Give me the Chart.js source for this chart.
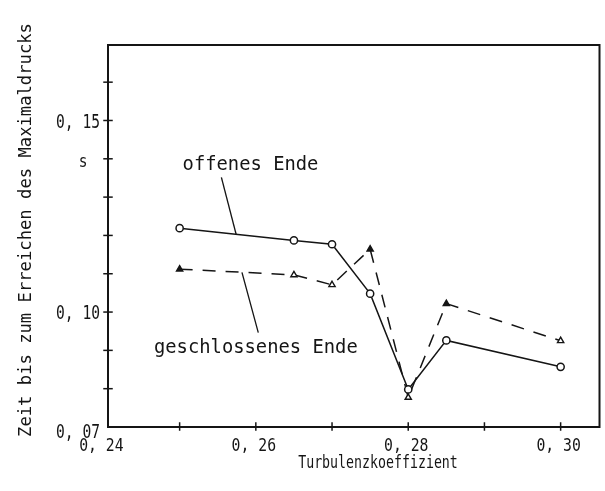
<!DOCTYPE html>
<html>
<head>
<meta charset="utf-8">
<script src="https://cdn.jsdelivr.net/npm/chart.js@4/dist/chart.umd.min.js"></script>
<style>
  html, body { margin: 0; padding: 0; background: #fff; }
  canvas { display: block; }
</style>
</head>
<body>
<canvas id="chart" width="605" height="491"></canvas>
<script>
// Turbulenzkoeffizient (x) and time to maximum pressure in s (y)
const xValues = [0.25, 0.265, 0.27, 0.275, 0.28, 0.285, 0.30];
const offenesEnde = [0.1219, 0.1187, 0.1177, 0.1048, 0.0798, 0.0926, 0.0857];
const geschlossenesEnde = [0.1112, 0.1097, 0.1071, 0.1164, 0.0777, 0.1022, 0.0925];
const geschlossenFilled = [true, false, false, true, false, true, false];

const xTicks = [0.25, 0.26, 0.27, 0.28, 0.29, 0.30];
const xLabelValues = [0.24, 0.26, 0.28, 0.30];
const xLabelTexts = ['0, 24', '0, 26', '0, 28', '0, 30'];
const yTicks = [0.08, 0.09, 0.10, 0.11, 0.12, 0.13, 0.14, 0.15, 0.16];
const yLabelValues = [0.07, 0.10, 0.15];
const yLabelTexts = ['0, 07', '0, 10', '0, 15'];

const INK = '#151515';
const FONT = '"DejaVu Sans Mono", "Liberation Mono", monospace';

// draw text centred on (x, y) by cap height, with horizontal squeeze
function drawText(ctx, text, x, y, size, sx, align, angle) {
    ctx.save();
    ctx.translate(x, y);
    if (angle) ctx.rotate(angle);
    ctx.scale(sx, 1);
    ctx.font = size + 'px ' + FONT;
    ctx.fillStyle = INK;
    ctx.textAlign = align;
    ctx.textBaseline = 'alphabetic';
    ctx.fillText(text, 0, size * 0.365);
    ctx.restore();
}

function line(ctx, x1, y1, x2, y2, w) {
    ctx.beginPath();
    ctx.lineWidth = w;
    ctx.moveTo(x1, y1);
    ctx.lineTo(x2, y2);
    ctx.stroke();
}

const frameAndText = {
    id: 'frameAndText',
    afterDraw(chart) {
        const { ctx, chartArea: a, scales: { x, y } } = chart;
        ctx.save();
        ctx.strokeStyle = INK;
        ctx.lineCap = 'square';

        // frame
        ctx.lineWidth = 2;
        ctx.strokeRect(a.left, a.top, a.right - a.left, a.bottom - a.top);

        // tick marks crossing the axes
        xTicks.forEach(v => {
            const px = x.getPixelForValue(v);
            line(ctx, px, a.bottom - 4, px, a.bottom + 3, 1.5);
        });
        yTicks.forEach(v => {
            const py = y.getPixelForValue(v);
            line(ctx, a.left - 4, py, a.left + 4, py, 1.5);
        });

        // tick labels
        xLabelValues.forEach((v, i) => {
            drawText(ctx, xLabelTexts[i], x.getPixelForValue(v) - 2, a.bottom + 17, 18, 0.82, 'center');
        });
        yLabelValues.forEach((v, i) => {
            let py = y.getPixelForValue(v);
            if (v === y.min) py += 4;
            drawText(ctx, yLabelTexts[i], a.left - 8, py, 20, 0.73, 'right');
        });
        drawText(ctx, 's', a.left - 25, y.getPixelForValue(0.14) + 2, 17, 0.85, 'center');

        // axis titles
        drawText(ctx, 'Turbulenzkoeffizient', 378, 462, 17, 0.78, 'center');
        drawText(ctx, 'Zeit bis zum Erreichen des Maximaldrucks', 25, 230, 17.2, 1, 'center', -Math.PI / 2);

        // series labels with leader lines
        drawText(ctx, 'offenes Ende', x.getPixelForValue(0.2593), y.getPixelForValue(0.1390), 20, 0.94, 'center');
        line(ctx, x.getPixelForValue(0.2555), y.getPixelForValue(0.1350),
            x.getPixelForValue(0.2574), y.getPixelForValue(0.1204), 1.3);

        drawText(ctx, 'geschlossenes Ende', x.getPixelForValue(0.2600), y.getPixelForValue(0.0912), 20, 0.94, 'center');
        line(ctx, x.getPixelForValue(0.2582), y.getPixelForValue(0.1102),
            x.getPixelForValue(0.2603), y.getPixelForValue(0.0948), 1.3);

        ctx.restore();
    }
};

new Chart(document.getElementById('chart'), {
    type: 'line',
    data: {
        datasets: [{
            label: 'offenes Ende',
            data: xValues.map((v, i) => ({ x: v, y: offenesEnde[i] })),
            borderColor: INK,
            borderWidth: 1.5,
            pointStyle: 'circle',
            pointRadius: 3.6,
            pointBorderWidth: 1.5,
            pointBorderColor: INK,
            pointBackgroundColor: '#fff',
            tension: 0
        }, {
            label: 'geschlossenes Ende',
            data: xValues.map((v, i) => ({ x: v, y: geschlossenesEnde[i] })),
            borderColor: INK,
            borderWidth: 1.5,
            borderDash: [13, 10],
            pointStyle: 'triangle',
            pointRadius: 3.6,
            pointBorderWidth: 1.4,
            pointBorderColor: INK,
            pointBackgroundColor: geschlossenFilled.map(f => f ? INK : '#fff'),
            tension: 0
        }]
    },
    options: {
        responsive: false,
        animation: false,
        events: [],
        layout: { padding: { left: 0, right: 3, top: 45, bottom: 0 } },
        plugins: {
            legend: { display: false },
            tooltip: { enabled: false }
        },
        scales: {
            x: {
                type: 'linear',
                min: 0.2406,
                max: 0.3051,
                grid: { display: false },
                border: { display: false },
                ticks: { display: false },
                afterFit(scale) { scale.height = 64; }
            },
            y: {
                type: 'linear',
                min: 0.07,
                max: 0.1697,
                grid: { display: false },
                border: { display: false },
                ticks: { display: false },
                afterFit(scale) { scale.width = 108; }
            }
        }
    },
    plugins: [frameAndText]
});
</script>
</body>
</html>
